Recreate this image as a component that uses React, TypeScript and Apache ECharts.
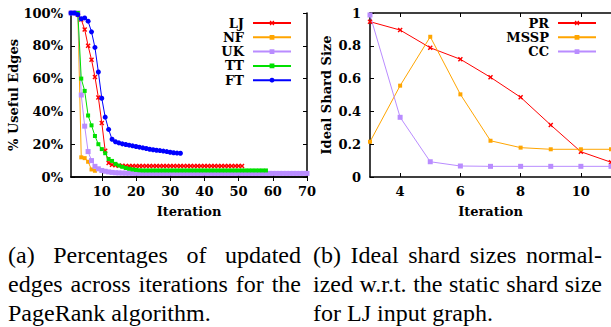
import React, { useEffect, useRef } from 'react';
import * as echarts from 'echarts';

// ---------- Data (left: % useful edges per iteration, starting at iteration 1) ----------
const LJ = [
  100, 100, 99, 96, 90, 80, 71.5, 61, 48.5, 33, 16, 8.5, 7.5, 7.1, 6.9, 6.8,
  6.7, 6.7, 6.7, 6.7, 6.7, 6.7, 6.7, 6.7, 6.7, 6.7,
  6.7, 6.7, 6.7, 6.7, 6.7, 6.7, 6.7, 6.7, 6.7, 6.7,
  6.7, 6.7, 6.7, 6.7, 6.7, 6.7, 6.7, 6.7, 6.7, 6.7,
  6.7, 6.7, 6.7, 6.7, 6.7,
];
const NF = [100, 100, 100, 12, 11.5, 9.3, 4.6, 3.8];
const UK = [
  100, 100, 100, 50, 31, 15.5, 10, 6.5, 5, 4, 3.5, 3.1, 2.8, 2.6, 2.5, 2.4, 2.35, 2.3, 2.25, 2.2,
  2.2, 2.2, 2.2, 2.2, 2.2, 2.2, 2.2, 2.2, 2.2, 2.2,
  2.2, 2.2, 2.2, 2.2, 2.2, 2.2, 2.2, 2.2, 2.2, 2.2,
  2.2, 2.2, 2.2, 2.2, 2.2, 2.2, 2.2, 2.2, 2.2, 2.2,
  2.2, 2.2, 2.2, 2.2, 2.2, 2.2, 2.2, 2.2, 2.2, 2.2,
  2.2, 2.2, 2.2, 2.2, 2.2, 2.2, 2.2, 2.2, 2.2, 2.2,
];
const TT = [
  100, 100, 100, 60, 52.5, 37.5, 31.5, 25, 20, 17, 14.5, 11, 9.8, 8, 7, 6.2, 5.5, 5, 4.6, 4.3, 4.1,
  4.0, 4.0, 4.0, 4.0, 4.0, 4.0, 4.0, 4.0, 4.0, 4.0,
  4.0, 4.0, 4.0, 4.0, 4.0, 4.0, 4.0, 4.0, 4.0, 4.0,
  4.0, 4.0, 4.0, 4.0, 4.0, 4.0, 4.0, 4.0, 4.0, 4.0,
  4.0, 4.0, 4.0, 4.0, 4.0, 4.0, 4.0,
];
const FT = [
  100, 100, 99, 96.5, 97, 95, 88.5, 79, 64, 48, 36.5, 29, 23, 21.5, 20.8, 20.2, 19.8, 19.4, 19,
  18.6, 18.2, 17.8, 17.4, 16.9, 16.6, 16.3, 16.1, 15.8, 15.5, 15.1, 14.8, 14.6, 14.5,
];
const LEFT_TICKS = [10, 20, 30, 40, 50, 60, 70];
const LEFT_Y_TICKS = [0, 20, 40, 60, 80, 100];

// ---------- Data (right: ideal shard size) ----------
const RIGHT_ITER = [3, 4, 5, 6, 7, 8, 9, 10, 11];
const PR = [0.947, 0.896, 0.788, 0.718, 0.608, 0.486, 0.317, 0.154, 0.09];
const MSSP = [0.215, 0.557, 0.855, 0.504, 0.221, 0.179, 0.169, 0.169, 0.169];
const CC = [0.988, 0.364, 0.093, 0.067, 0.065, 0.065, 0.065, 0.065, 0.065];
const RIGHT_TICKS = [4, 6, 8, 10];

// ---------- Captions ----------
const CAPTION_A = [
  { words: ['(a)', 'Percentages', 'of', 'updated'], justify: true },
  { words: ['edges', 'across', 'iterations', 'for', 'the'], justify: true },
  { words: ['PageRank', 'algorithm.'], justify: false },
];
const CAPTION_B = [
  { words: ['(b)', 'Ideal', 'shard', 'sizes', 'normal-'], justify: true },
  { words: ['ized', 'w.r.t.', 'the', 'static', 'shard', 'size'], justify: true },
  { words: ['for', 'LJ', 'input', 'graph.'], justify: false },
];

const FONT = "'DejaVu Serif', serif";
const CAP_FONT = "'Liberation Serif', 'Times New Roman', serif";
const CROSS = 'path://M0,1L1,0L2.5,1.5L4,0L5,1L3.5,2.5L5,4L4,5L2.5,3.5L1,5L0,4L1.5,2.5Z';

const C_RED = '#ff0000';
const C_ORANGE = '#ffa500';
const C_PURPLE = '#b98cff';
const C_GREEN = '#00e000';
const C_BLUE = '#0000ff';

const labelStyle = { fontFamily: FONT, fontWeight: 'bold' as const, fontSize: 13, color: '#000' };

function toPairs(xs: number[], ys: number[]) {
  return ys.map((v, i) => [xs[i], v]);
}
function iterPairs(ys: number[]) {
  return ys.map((v, i) => [i + 1, v]);
}

export default function App() {
  const ref = useRef<HTMLDivElement>(null);
  useEffect(() => {
    const chart = echarts.init(ref.current!, null, { renderer: 'svg', width: 611, height: 327 });

    const ctx = document.createElement('canvas').getContext('2d')!;
    ctx.font = `24px ${CAP_FONT}`;
    const lineYs = [255, 284, 313];
    const captionEls: any[] = [];
    const layout = (lines: { words: string[]; justify: boolean }[], left: number, right: number) => {
      lines.forEach((ln, li) => {
        const widths = ln.words.map((w) => ctx.measureText(w).width);
        const total = widths.reduce((a, b) => a + b, 0);
        const gap = ln.justify && ln.words.length > 1
          ? (right - left - total) / (ln.words.length - 1)
          : ctx.measureText(' ').width;
        let x = left;
        ln.words.forEach((w, i) => {
          captionEls.push({
            type: 'text',
            x,
            y: lineYs[li],
            silent: true,
            style: { text: w, fontFamily: CAP_FONT, fontSize: 24, fill: '#000', verticalAlign: 'middle', align: 'left' },
          });
          x += widths[i] + gap;
        });
      });
    };
    layout(CAPTION_A, 8, 301);
    layout(CAPTION_B, 313, 602);

    const axisLine = { show: true, lineStyle: { color: '#000', width: 1.5 } };
    const tick = (vals?: number[]) => ({
      show: true, inside: true, length: 4, lineStyle: { color: '#000', width: 1 },
      ...(vals ? { customValues: vals } : {}),
    });

    const lineSeries = (name: string, data: any[], color: string, symbol: string, size: number, xi: number, yi: number) => ({
      name, type: 'line', data, xAxisIndex: xi, yAxisIndex: yi,
      symbol, symbolSize: size, showSymbol: true,
      lineStyle: { color, width: 1 }, itemStyle: { color },
      emphasis: { disabled: true }, z: 3,
    });

    const legendBase = {
      orient: 'vertical', align: 'right', itemWidth: 38, itemHeight: 6, itemGap: 0.3, padding: 0,
      textStyle: { ...labelStyle, lineHeight: 14, padding: [0, 4, 0, 0] },
      selectedMode: false,
    };

    const option: any = {
      animation: false,
      backgroundColor: '#fff',
      grid: [
        { left: 71, top: 13, width: 236, height: 164 },
        { left: 370, top: 13, right: -2, height: 164 },
      ],
      xAxis: [
        {
          gridIndex: 0, type: 'value', min: 1, max: 70, position: 'bottom',
          axisLine, axisTick: tick(LEFT_TICKS), splitLine: { show: false },
          axisLabel: { ...labelStyle, margin: 8, customValues: LEFT_TICKS },
          name: 'Iteration', nameLocation: 'middle', nameGap: 28, nameTextStyle: labelStyle,
        },
        {
          gridIndex: 0, type: 'value', min: 1, max: 70, position: 'top',
          axisLine, axisTick: tick(LEFT_TICKS), splitLine: { show: false },
          axisLabel: { show: false, customValues: LEFT_TICKS },
        },
        {
          gridIndex: 1, type: 'value', min: 3, max: 11, position: 'bottom',
          axisLine, axisTick: tick(RIGHT_TICKS), splitLine: { show: false },
          axisLabel: { ...labelStyle, margin: 8, customValues: RIGHT_TICKS },
          name: 'Iteration', nameLocation: 'middle', nameGap: 28, nameTextStyle: labelStyle,
        },
        {
          gridIndex: 1, type: 'value', min: 3, max: 11, position: 'top',
          axisLine, axisTick: tick(RIGHT_TICKS), splitLine: { show: false },
          axisLabel: { show: false, customValues: RIGHT_TICKS },
        },
      ],
      yAxis: [
        {
          gridIndex: 0, type: 'value', min: 0, max: 100, interval: 20, position: 'left',
          axisLine, axisTick: tick(), splitLine: { show: false },
          axisLabel: { ...labelStyle, margin: 8, formatter: '{value}%' },
          name: '% Useful Edges', nameLocation: 'middle', nameRotate: 90, nameGap: 40, nameTextStyle: labelStyle,
        },
        {
          gridIndex: 0, type: 'value', min: 0, max: 100, interval: 20, position: 'right',
          axisLine, axisTick: tick(LEFT_Y_TICKS), splitLine: { show: false },
          axisLabel: { show: false },
        },
        {
          gridIndex: 1, type: 'value', min: 0, max: 1, interval: 0.2, position: 'left',
          axisLine, axisTick: tick(), splitLine: { show: false },
          axisLabel: {
            ...labelStyle, margin: 9,
            formatter: (v: number) => (v === 0 ? '0' : v === 1 ? '1' : v.toFixed(1)),
          },
          name: 'Ideal Shard Size', nameLocation: 'middle', nameRotate: 90, nameGap: 37, nameTextStyle: labelStyle,
        },
      ],
      legend: [
        { ...legendBase, right: 319, top: 16, data: ['LJ', 'NF', 'UK', 'TT', 'FT'] },
        { ...legendBase, right: 14, top: 16, data: ['PR', 'MSSP', 'CC'] },
      ],
      series: [
        lineSeries('LJ', iterPairs(LJ), C_RED, CROSS, 5, 0, 0),
        lineSeries('NF', iterPairs(NF), C_ORANGE, 'rect', 4, 0, 0),
        lineSeries('UK', iterPairs(UK), C_PURPLE, 'rect', 5, 0, 0),
        lineSeries('TT', iterPairs(TT), C_GREEN, 'rect', 4, 0, 0),
        lineSeries('FT', iterPairs(FT), C_BLUE, 'circle', 5, 0, 0),
        lineSeries('PR', toPairs(RIGHT_ITER, PR), C_RED, CROSS, 5, 2, 2),
        lineSeries('MSSP', toPairs(RIGHT_ITER, MSSP), C_ORANGE, 'rect', 4, 2, 2),
        lineSeries('CC', toPairs(RIGHT_ITER, CC), C_PURPLE, 'rect', 5, 2, 2),
      ],
      graphic: captionEls,
    };

    chart.setOption(option);
    return () => chart.dispose();
  }, []);

  return (
    <div
      ref={ref}
      style={{ position: 'fixed', left: 0, top: 0, width: 611, height: 327, background: '#fff' }}
    />
  );
}
